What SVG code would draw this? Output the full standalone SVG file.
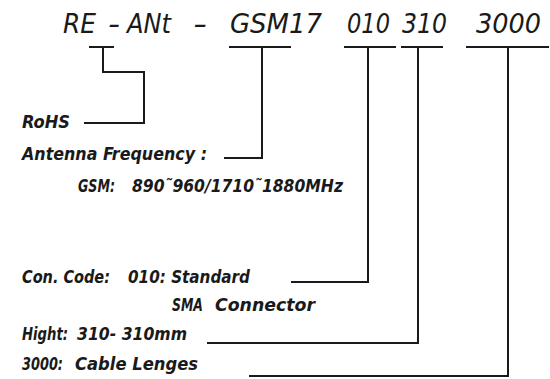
<svg xmlns="http://www.w3.org/2000/svg" width="550" height="379" viewBox="0 0 550 379">
<style>
.t{font-family:"DejaVu Sans Condensed","DejaVu Sans","Liberation Sans",sans-serif;font-style:oblique;font-size:27px;fill:#1a1a1a}
.l{font-family:"DejaVu Sans Condensed","DejaVu Sans","Liberation Sans",sans-serif;font-style:oblique;font-weight:bold;font-size:18.5px;fill:#1a1a1a}
.c{fill:none;stroke:#1a1a1a;stroke-width:2;stroke-linecap:square}
</style>
<rect width="550" height="379" fill="#ffffff"/>
<g id="title">
<text class="t" x="63" y="33" textLength="33" lengthAdjust="spacingAndGlyphs">RE</text>
<text class="t" x="108" y="33" textLength="12" lengthAdjust="spacingAndGlyphs">-</text>
<text class="t" x="127" y="33" textLength="44" lengthAdjust="spacingAndGlyphs">ANt</text>
<text class="t" x="193" y="33" textLength="14" lengthAdjust="spacingAndGlyphs">-</text>
<text class="t" x="230" y="33" textLength="92" lengthAdjust="spacingAndGlyphs">GSM17</text>
<text class="t" x="347" y="33" textLength="43" lengthAdjust="spacingAndGlyphs">010</text>
<text class="t" x="402" y="33" textLength="45" lengthAdjust="spacingAndGlyphs">310</text>
<text class="t" x="476" y="33" textLength="65" lengthAdjust="spacingAndGlyphs">3000</text>
</g>
<g id="rohs">
<text class="l" x="22" y="128" textLength="48" lengthAdjust="spacingAndGlyphs">RoHS</text>
</g>
<g id="frequency">
<text class="l" x="22" y="160" textLength="185" lengthAdjust="spacingAndGlyphs">Antenna Frequency :</text>
<text class="l" x="78" y="192" textLength="37" lengthAdjust="spacingAndGlyphs">GSM:</text>
<text class="l" x="132" y="192" textLength="211" lengthAdjust="spacingAndGlyphs">890˜960/1710˜1880MHz</text>
</g>
<g id="concode">
<text class="l" x="22" y="283" textLength="88" lengthAdjust="spacingAndGlyphs">Con. Code:</text>
<text class="l" x="128" y="283" textLength="122" lengthAdjust="spacingAndGlyphs">010: Standard</text>
<text class="l" x="172" y="311" textLength="31" lengthAdjust="spacingAndGlyphs">SMA</text>
<text class="l" x="215" y="311" textLength="100" lengthAdjust="spacingAndGlyphs">Connector</text>
</g>
<g id="hight">
<text class="l" x="22" y="340" textLength="46" lengthAdjust="spacingAndGlyphs">Hight:</text>
<text class="l" x="77" y="340" textLength="110" lengthAdjust="spacingAndGlyphs">310- 310mm</text>
</g>
<g id="cable">
<text class="l" x="22" y="370" textLength="41" lengthAdjust="spacingAndGlyphs">3000:</text>
<text class="l" x="75" y="370" textLength="123" lengthAdjust="spacingAndGlyphs">Cable Lenges</text>
</g>
<g id="connectors">
<path class="c" d="M90,47 H113 M103,47 V72 H144 V123 H85"/>
<path class="c" d="M230,47 H290 M262,47 V158 H225"/>
<path class="c" d="M345,47 H395 M368,47 V282 H292"/>
<path class="c" d="M402,47 H442 M418,47 V343 H208"/>
<path class="c" d="M467,47 H548 M508,47 V376 H250"/>
</g>
</svg>
